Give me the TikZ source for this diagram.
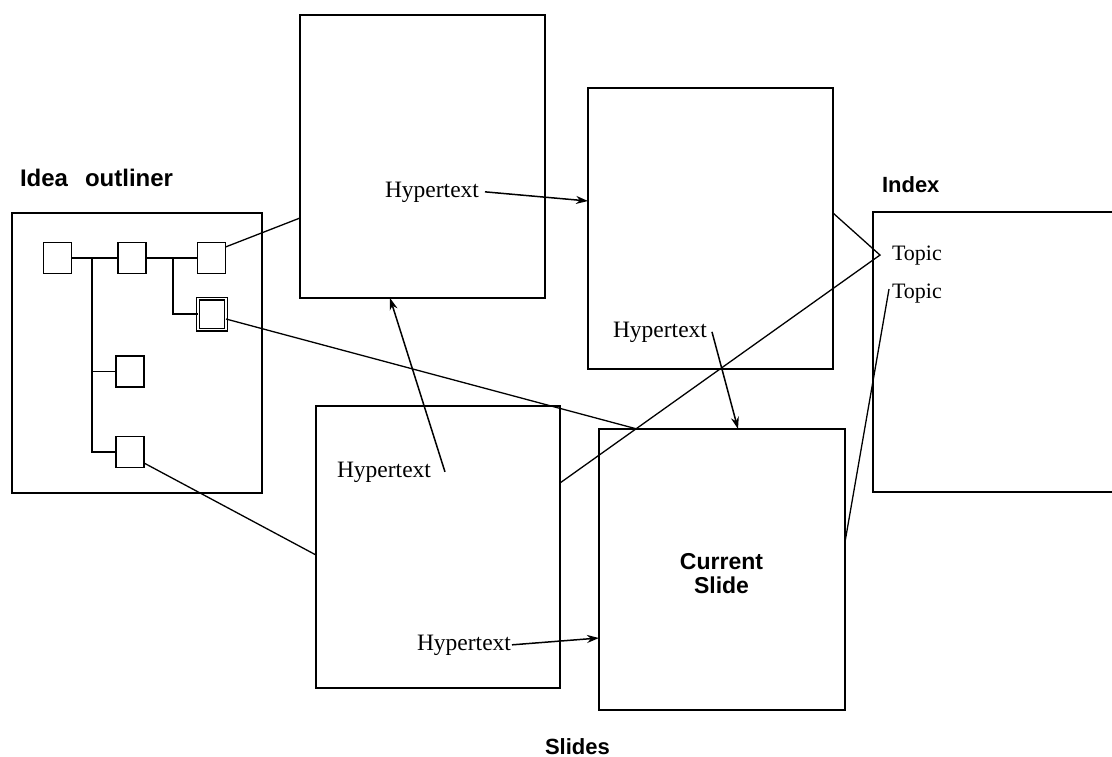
\documentclass[tikz,border=0pt]{standalone}
\usepackage{fontspec}
\setmainfont{Liberation Serif}
\setsansfont{Liberation Sans}
\usetikzlibrary{arrows.meta}
\tikzset{
  slide/.style={draw, line width=1.9pt, inner sep=0pt, outer sep=0pt},
  sbox/.style={draw, line width=1.7pt, minimum width=28pt, minimum height=31pt, inner sep=0pt, outer sep=0pt},
  ht/.style={inner sep=0pt, outer sep=0pt, font=\fontsize{23.5}{26}\selectfont, anchor=base west},
  lbl/.style={inner sep=0pt, outer sep=0pt, font=\sffamily\bfseries\fontsize{23}{24}\selectfont, anchor=base west},
  conn/.style={line width=1.3pt},
  arr/.style={line width=1.5pt, -{Stealth[length=12pt,width=8pt]}},
  tree/.style={line width=1.6pt}
}
\begin{document}
\begin{tikzpicture}[x=1pt,y=-1pt]
\clip (0,0) rectangle (1112,757);
\fill[white] (0,0) rectangle (1112,757);

% Idea outliner
\node[slide, minimum width=250pt, minimum height=280pt] (O) at (137,353) {};
\node[lbl, font=\sffamily\bfseries\fontsize{24}{26}\selectfont] (Olbl) at (20,186) {Idea\hspace{17pt}outliner};
\node[sbox] (b1) at (57.5,258) {};
\node[sbox] (b2) at (132,258) {};
\node[sbox] (b3) at (211.5,258) {};
\node[sbox, double, double distance=1.6pt, line width=1.2pt] (b4) at (212,314) {};
\node[sbox] (b5) at (130,371.5) {};
\node[sbox] (b6) at (130,452) {};
\coordinate (j1) at (92,258);
\coordinate (j2) at (173,258);
\draw[tree] (b1.east) -- (b2.west);
\draw[tree] (b2.east) -- (b3.west);
\draw[tree] (b6.west) -| (j1);
\draw[tree] (b5.west) -- (b5.west -| j1);
\draw[tree] (b4.west) -| (j2);

% Slides
\node[slide, minimum width=245pt, minimum height=283pt] (A) at (422.5,156.5) {};
\node[slide, minimum width=245pt, minimum height=281pt] (B) at (710.5,228.5) {};
\node[slide, minimum width=244pt, minimum height=282pt] (C) at (438,547) {};
\node[slide, minimum width=246pt, minimum height=281pt] (D) at (722,569.5) {};
\node[slide, minimum width=300pt, minimum height=280pt] (I) at (1023,352) {};

% Labels
\node[lbl, font=\sffamily\bfseries\fontsize{22}{24}\selectfont] (Ilbl) at (882,193) {Index};
\node[lbl, font=\sffamily\bfseries\fontsize{22}{24}\selectfont] (Slbl) at (545,754) {Slides};
\node[inner sep=0pt, font=\sffamily\bfseries\fontsize{23}{24}\selectfont, align=center, anchor=base] (Dlbl) at (721.5,593) {Current\\Slide};

% Hypertext labels
\node[ht] (hA) at (385,197) {Hypertext};
\node[ht] (hB) at (613,337) {Hypertext};
\node[ht] (hC1) at (337,477) {Hypertext};
\node[ht] (hC2) at (417,650) {Hypertext};
\node[ht, font=\fontsize{22}{24}\selectfont] (t1) at (892,260) {Topic};
\node[ht, font=\fontsize{22}{24}\selectfont] (t2) at (892,298) {Topic};
\coordinate (tp) at ([xshift=-12pt]t1.west);

% Arrows
\draw[arr] ([xshift=6pt]hA.east) -- ([yshift=27.5pt]B.west);
\draw[arr] ([xshift=5pt]hB.east) -- ([xshift=16pt]D.north);
\draw[arr] ([xshift=14pt]hC1.east) -- ([xshift=-32.5pt]A.south);
\draw[arr] ([xshift=1pt]hC2.east) -- ([yshift=-68.5pt]D.west);

% Lines
\draw[conn] ([yshift=11pt]b3.east) -- ([yshift=-61.5pt]A.west);
\draw[conn] ([yshift=-5pt]b4.east) -- ([xshift=38pt]D.north west);
\draw[conn] ([yshift=-11pt]b6.east) -- ([yshift=-8pt]C.west);
\draw[conn] ([yshift=15.5pt]B.east) -- (tp) -- ([yshift=64pt]C.east);
\draw[conn] ([xshift=-3pt,yshift=4pt]t2.west) -- ([yshift=27.5pt]D.east);
\end{tikzpicture}
\end{document}
